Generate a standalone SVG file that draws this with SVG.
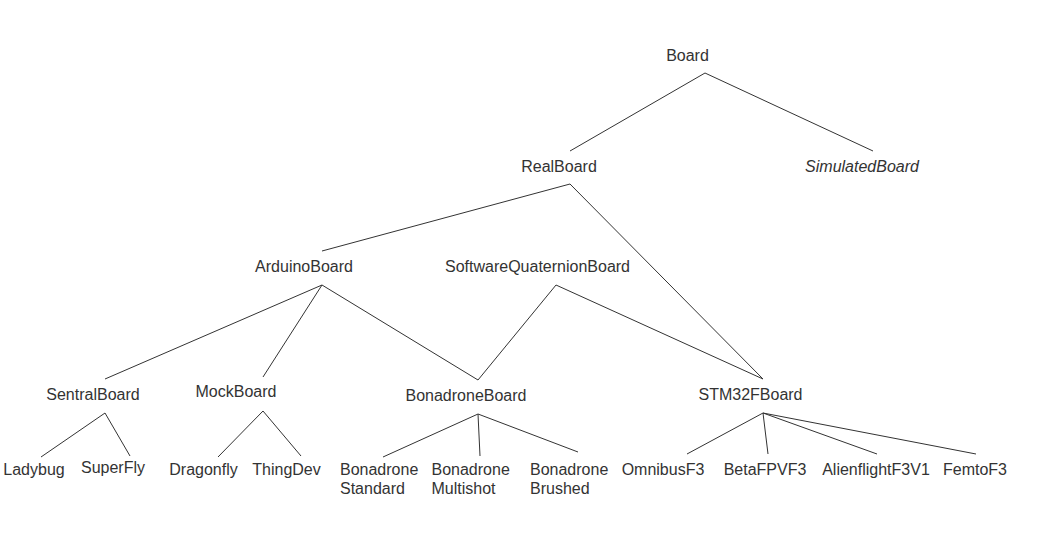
<svg xmlns="http://www.w3.org/2000/svg" width="1052" height="541" viewBox="0 0 1052 541">
<style>
text{font-family:"Liberation Sans",Arial,sans-serif;font-size:16px;fill:#333;}
.c{text-anchor:middle;}
.i{font-style:italic;}
#connectors line{stroke:#333;stroke-width:1;fill:none;}
</style>
<rect width="1052" height="541" fill="#fff"/>
<g id="connectors">
<line x1="705" y1="73" x2="570" y2="151"/>
<line x1="705" y1="73" x2="873" y2="151"/>
<line x1="570" y1="184" x2="322" y2="251"/>
<line x1="570" y1="184" x2="763" y2="379"/>
<line x1="322" y1="285" x2="105" y2="379"/>
<line x1="322" y1="285" x2="263" y2="377"/>
<line x1="322" y1="285" x2="478" y2="380"/>
<line x1="556" y1="285" x2="478" y2="380"/>
<line x1="556" y1="285" x2="763" y2="379"/>
<line x1="105" y1="413" x2="41" y2="457"/>
<line x1="105" y1="413" x2="130" y2="456"/>
<line x1="263" y1="411" x2="218" y2="457"/>
<line x1="263" y1="411" x2="301" y2="456"/>
<line x1="478" y1="414" x2="383" y2="457"/>
<line x1="478" y1="414" x2="480" y2="456"/>
<line x1="478" y1="414" x2="578" y2="452"/>
<line x1="763" y1="413" x2="687" y2="454"/>
<line x1="763" y1="413" x2="768" y2="454"/>
<line x1="763" y1="413" x2="877" y2="454"/>
<line x1="763" y1="413" x2="976" y2="454"/>
</g>
<g id="Board"><text class="c" x="687.5" y="61">Board</text></g>
<g id="RealBoard"><text class="c" x="559" y="172">RealBoard</text></g>
<g id="SimulatedBoard"><text class="c i" x="862" y="172">SimulatedBoard</text></g>
<g id="ArduinoBoard"><text class="c" x="304" y="272">ArduinoBoard</text></g>
<g id="SoftwareQuaternionBoard"><text class="c" x="537.5" y="272">SoftwareQuaternionBoard</text></g>
<g id="SentralBoard"><text class="c" x="93" y="400">SentralBoard</text></g>
<g id="MockBoard"><text class="c" x="236" y="397">MockBoard</text></g>
<g id="BonadroneBoard"><text class="c" x="466" y="401">BonadroneBoard</text></g>
<g id="STM32FBoard"><text class="c" x="750.5" y="400">STM32FBoard</text></g>
<g id="Ladybug"><text class="c" x="34" y="475">Ladybug</text></g>
<g id="SuperFly"><text class="c" x="113" y="473">SuperFly</text></g>
<g id="Dragonfly"><text class="c" x="203.5" y="475">Dragonfly</text></g>
<g id="ThingDev"><text class="c" x="286.5" y="475">ThingDev</text></g>
<g id="BonadroneStandard"><text x="340" y="475">Bonadrone</text><text x="340" y="494">Standard</text></g>
<g id="BonadroneMultishot"><text x="431.5" y="475">Bonadrone</text><text x="431.5" y="494">Multishot</text></g>
<g id="BonadroneBrushed"><text x="530" y="475">Bonadrone</text><text x="530" y="494">Brushed</text></g>
<g id="OmnibusF3"><text class="c" x="663" y="475">OmnibusF3</text></g>
<g id="BetaFPVF3"><text class="c" x="765" y="475">BetaFPVF3</text></g>
<g id="AlienflightF3V1"><text class="c" x="876" y="475">AlienflightF3V1</text></g>
<g id="FemtoF3"><text class="c" x="975" y="475">FemtoF3</text></g>
</svg>
